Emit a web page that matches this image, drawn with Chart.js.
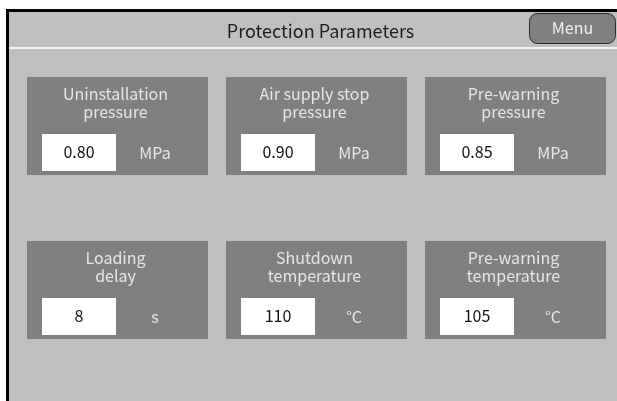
<!DOCTYPE html>
<html>
<head>
<meta charset="utf-8">
<script src="https://cdn.jsdelivr.net/npm/chart.js@4"></script>
<style>
  html, body { margin: 0; padding: 0; background: #ffffff; }
  #wrap { width: 617px; height: 401px; }
</style>
</head>
<body>
<div id="wrap"><canvas id="myChart" width="617" height="401"></canvas></div>
<script>
// page text
const pageTitle = "Protection Parameters";
const menuLabel = "Menu";

// parameters, read left to right, top to bottom
const columns = ["col1", "col2", "col3"];
const paramTitles = [
    ["Uninstallation", "pressure"],
    ["Air supply stop", "pressure"],
    ["Pre-warning", "pressure"],
    ["Loading", "delay"],
    ["Shutdown", "temperature"],
    ["Pre-warning", "temperature"]
];
const paramValues = [0.80, 0.90, 0.85, 8, 110, 105];
const paramDecimals = [2, 2, 2, 0, 0, 0];
const paramUnits = ["MPa", "MPa", "MPa", "s", "°C", "°C"];

// layout (screen units, y scale runs top to bottom)
const ROW_TOP = [77, 241];
const PANEL_H = 98;
const FONT = '"Noto Sans CJK SC", "Noto Sans", sans-serif';

const framePlugin = {
    id: "frame",
    beforeDraw(chart) {
        const ctx = chart.ctx;
        ctx.save();
        ctx.fillStyle = "#ffffff";
        ctx.fillRect(0, 0, 617, 401);
        // body
        ctx.fillStyle = "#bfbfbf";
        ctx.fillRect(9, 12, 608, 389);
        // black frame top + left
        ctx.fillStyle = "#000000";
        ctx.fillRect(6, 9, 611, 3);
        ctx.fillRect(6, 9, 3, 392);
        // header separator
        ctx.fillStyle = "#f4f4f4";
        ctx.fillRect(9, 47, 608, 2);
        // title
        ctx.fillStyle = "#1e1e1e";
        ctx.font = "18px " + FONT;
        ctx.textAlign = "center";
        ctx.textBaseline = "alphabetic";
        ctx.fillText(pageTitle, 320.5, 37.5);
        // menu button
        ctx.beginPath();
        ctx.roundRect(529.5, 13.5, 86, 30, 8);
        ctx.fillStyle = "#808080";
        ctx.fill();
        ctx.lineWidth = 1;
        ctx.strokeStyle = "#2a2a2a";
        ctx.stroke();
        ctx.font = "16px " + FONT;
        ctx.fillStyle = "#f0f0f0";
        ctx.fillText(menuLabel, 572.5, 34);
        ctx.restore();
    },
    afterDatasetsDraw(chart) {
        const ctx = chart.ctx;
        ctx.save();
        ctx.textAlign = "center";
        ctx.textBaseline = "alphabetic";
        ctx.font = "16px " + FONT;
        chart.data.datasets.forEach((ds, row) => {
            chart.getDatasetMeta(row).data.forEach((bar, col) => {
                const i = row * columns.length + col;
                const left = bar.x - bar.width / 2;
                const top = Math.min(bar.y, bar.base);
                const bottom = Math.max(bar.y, bar.base);
                // title, two lines
                ctx.fillStyle = "#e6e6e6";
                ctx.fillText(paramTitles[i][0], bar.x - 2, top + 23);
                ctx.fillText(paramTitles[i][1], bar.x - 2, top + 41);
                // value box
                const boxTop = bottom - 41;
                ctx.fillStyle = "#ffffff";
                ctx.fillRect(left + 15, boxTop, 74, 37);
                ctx.fillStyle = "#111111";
                ctx.fillText(paramValues[i].toFixed(paramDecimals[i]), left + 52, boxTop + 23.5);
                // unit
                ctx.fillStyle = "#e6e6e6";
                ctx.fillText(paramUnits[i], left + 128, boxTop + 25);
            });
        });
        ctx.restore();
    }
};

function renderChart() {
    const ctx = document.getElementById("myChart").getContext("2d");
    new Chart(ctx, {
        type: "bar",
        plugins: [framePlugin],
        data: {
            labels: columns,
            datasets: ROW_TOP.map(t => ({
                data: columns.map(() => [t, t + PANEL_H]),
                backgroundColor: "#808080",
                borderWidth: 0,
                barPercentage: 181 / 199,
                categoryPercentage: 1
            }))
        },
        options: {
            responsive: false,
            devicePixelRatio: 1,
            animation: false,
            events: [],
            layout: { padding: { left: 18, right: 2, top: 0, bottom: 0 } },
            datasets: { bar: { grouped: false } },
            plugins: { legend: { display: false }, tooltip: { enabled: false } },
            scales: {
                x: { display: false },
                y: { display: false, reverse: true, min: 0, max: 401 }
            }
        }
    });
}

renderChart();
</script>
</body>
</html>
